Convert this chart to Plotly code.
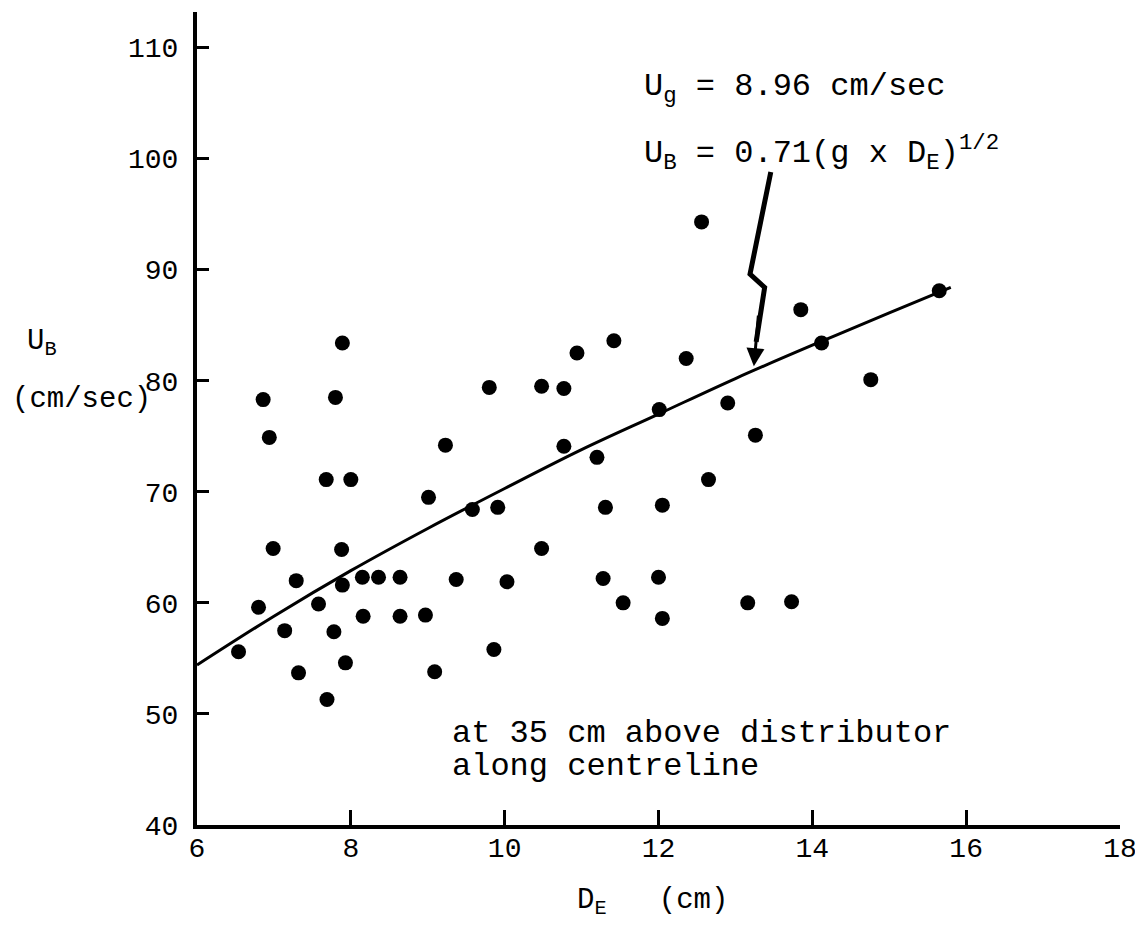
import plotly.graph_objects as go

# Measured bubble data (D_E in cm, U_B in cm/sec)
d_e = [6.54, 6.80, 6.86, 6.94, 6.99, 7.14, 7.29, 7.32, 7.58, 7.68,
       7.69, 7.78, 7.80, 7.88, 7.89, 7.89, 7.93, 8.00, 8.15, 8.16,
       8.36, 8.64, 8.64, 8.97, 9.01, 9.09, 9.23, 9.37, 9.58, 9.80,
       9.86, 9.91, 10.03, 10.48, 10.48, 10.77, 10.77, 10.94, 11.20, 11.28,
       11.31, 11.42, 11.54, 12.00, 12.01, 12.05, 12.05, 12.36, 12.56, 12.65,
       12.90, 13.16, 13.26, 13.73, 13.85, 14.12, 14.76, 15.65]
u_b = [55.6, 59.6, 78.3, 74.9, 64.9, 57.5, 62.0, 53.7, 59.9, 71.1,
       51.3, 57.4, 78.5, 64.8, 83.4, 61.6, 54.6, 71.1, 62.3, 58.8,
       62.3, 62.3, 58.8, 58.9, 69.5, 53.8, 74.2, 62.1, 68.4, 79.4,
       55.8, 68.6, 61.9, 79.5, 64.9, 79.3, 74.1, 82.5, 73.1, 62.2,
       68.6, 83.6, 60.0, 62.3, 77.4, 68.8, 58.6, 82.0, 94.3, 71.1,
       78.0, 60.0, 75.1, 60.1, 86.4, 83.4, 80.1, 88.1]

# Correlation curve U_B = 0.71 (g D_E)^1/2
curve_d = [6.0, 7.0, 8.0, 9.0, 10.0, 11.0, 12.0, 13.0, 14.0, 15.0, 15.8]
curve_u = [54.4, 58.8, 62.9, 66.7, 70.3, 73.8, 77.0, 80.2, 83.2, 86.1, 88.4]

x_ticks = [6, 8, 10, 12, 14, 16, 18]
y_ticks = [40, 50, 60, 70, 80, 90, 100, 110]

FONT = "Liberation Mono"

fig = go.Figure()
fig.add_trace(go.Scatter(x=curve_d, y=curve_u, mode="lines",
                         line=dict(color="black", width=3), line_shape="spline",
                         hoverinfo="skip", showlegend=False))
fig.add_trace(go.Scatter(x=d_e, y=u_b, mode="markers",
                         marker=dict(color="black", size=15, line=dict(width=0)),
                         showlegend=False))

# squiggle arrow shaft
fig.add_shape(type="path", xref="x", yref="y",
              path="M 13.46,98.8 L 13.19,89.6 L 13.38,88.4 L 13.27,83.5",
              line=dict(color="black", width=5))
fig.add_annotation(x=13.24, y=81.3, ax=13.30, ay=86.0, xref="x", yref="y",
                   axref="x", ayref="y", text="", showarrow=True,
                   arrowhead=2, arrowsize=1.2, arrowwidth=3, arrowcolor="black")

fig.add_annotation(x=11.79, y=106.3, xref="x", yref="y", xanchor="left", yanchor="middle",
                   text="U<sub>g</sub> = 8.96 cm/sec", showarrow=False,
                   font=dict(family=FONT, size=32, color="black"))
fig.add_annotation(x=11.79, y=100.5, xref="x", yref="y", xanchor="left", yanchor="middle",
                   text="U<sub>B</sub> = 0.71(g x D<sub>E</sub>)<sup>1/2</sup>", showarrow=False,
                   font=dict(family=FONT, size=32, color="black"))
fig.add_annotation(x=9.286, y=48.2, xref="x", yref="y", xanchor="left", yanchor="middle",
                   text="at 35 cm above distributor", showarrow=False,
                   font=dict(family=FONT, size=32, color="black"))
fig.add_annotation(x=9.286, y=45.3, xref="x", yref="y", xanchor="left", yanchor="middle",
                   text="along centreline", showarrow=False,
                   font=dict(family=FONT, size=32, color="black"))

# axis titles
fig.add_annotation(x=-0.186, y=0.593, xref="paper", yref="paper", xanchor="left", yanchor="middle",
                   text="U<sub>B</sub>", showarrow=False,
                   font=dict(family=FONT, size=29, color="black"))
fig.add_annotation(x=-0.2026, y=0.5228, xref="paper", yref="paper", xanchor="left", yanchor="middle",
                   text="(cm/sec)", showarrow=False,
                   font=dict(family=FONT, size=29, color="black"))
fig.add_annotation(x=0.4095, y=-0.095, xref="paper", yref="paper", xanchor="left", yanchor="middle",
                   text="D<sub>E</sub>   (cm)", showarrow=False,
                   font=dict(family=FONT, size=29, color="black"))

fig.update_xaxes(range=[6, 18], tickvals=x_ticks, ticktext=[str(v) for v in x_ticks],
                 showgrid=False, zeroline=False, showline=True, linecolor="black", linewidth=4,
                 ticks="inside", ticklen=15, tickwidth=3, tickcolor="black",
                 ticklabelstandoff=-6,
                 tickfont=dict(family=FONT, size=28, color="black"))
fig.update_yaxes(range=[40, 113.2], tickvals=y_ticks, ticktext=[str(v) for v in y_ticks],
                 showgrid=False, zeroline=False, showline=True, linecolor="black", linewidth=4,
                 ticks="inside", ticklen=12, tickwidth=3, tickcolor="black",
                 ticklabelstandoff=9,
                 tickfont=dict(family=FONT, size=28, color="black"))
# the page body has an 8px margin, so the figure is sized to fill the rest of the window
fig.update_layout(width=1135, height=918, plot_bgcolor="white", paper_bgcolor="white",
                  margin=dict(l=189, r=23, t=4, b=101), showlegend=False)
fig.write_html("out.html")
